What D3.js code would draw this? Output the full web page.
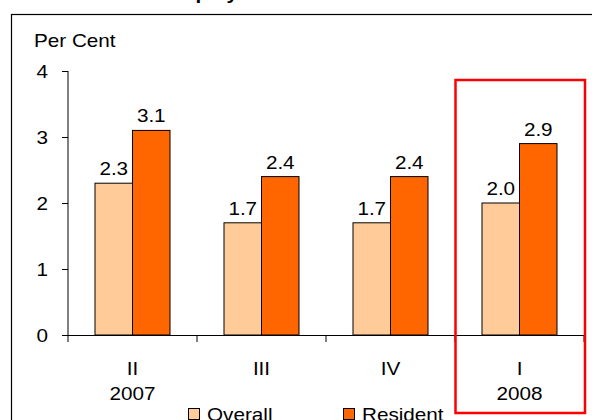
<!DOCTYPE html>
<html><head><meta charset="utf-8">
<script src="https://cdn.jsdelivr.net/npm/d3@7"></script>
<style>html,body{margin:0;padding:0;background:#fff;}svg{display:block;}</style>
</head><body>
<script>
const quarters = ["II","III","IV","I"];
const years = ["2007","","","2008"];
const overall = [2.3,1.7,1.7,2.0];
const resident = [3.1,2.4,2.4,2.9];
const seriesNames = ["Overall","Resident"];
const seriesColors = ["#FFCC99","#FF6600"];
const yTicks = [0,1,2,3,4];
const titleText = "Unemployment Rate";
const unitLabel = "Per Cent";

const W = 592, H = 420, SX = 1.15, FS = 18;
const FONT = "'Liberation Sans', Arial, sans-serif";
const svg = d3.select("body").append("svg").attr("width", W).attr("height", H);
svg.append("rect").attr("width", W).attr("height", H).attr("fill", "#fff");

function txt(x, y, s, anchor, opts) {
  opts = opts || {};
  return svg.append("text")
    .attr("transform", `translate(${x},${y}) scale(${SX},1)`)
    .attr("text-anchor", anchor || "start")
    .attr("font-family", FONT)
    .attr("font-size", opts.size || FS)
    .attr("font-weight", opts.weight || "normal")
    .attr("fill", "#000")
    .text(s);
}

// title (cut off at top)
txt(138, -1, titleText, "start", {size: 18, weight: "bold"});

// frame
svg.append("rect").attr("x", 11.5).attr("y", 14.5).attr("width", 620).attr("height", 500)
  .attr("fill", "none").attr("stroke", "#000").attr("stroke-width", 1.2);

const y = d3.scaleLinear().domain([0, 4]).range([335, 71]);
const x = d3.scaleBand().domain(quarters.map((q,i)=>i)).range([68, 584])
  .paddingInner(0.4186).paddingOuter(0.2093);
const xs = d3.scaleBand().domain([0,1]).range([0, x.bandwidth()]);
const step = x.step();

// y axis
svg.append("line").attr("x1", 68).attr("x2", 68).attr("y1", y(4)).attr("y2", y(0))
  .attr("stroke", "#000");
yTicks.forEach(t => {
  svg.append("line").attr("x1", 62).attr("x2", 68).attr("y1", y(t)+0.5).attr("y2", y(t)+0.5).attr("stroke", "#000");
  txt(48, y(t) + 6.5, String(t), "end");
});
txt(34, 47, unitLabel, "start");

// bars
const series = [overall, resident];
series.forEach((vals, si) => {
  vals.forEach((v, i) => {
    const bx = x(i) + xs(si);
    svg.append("rect").attr("x", bx).attr("y", y(v)).attr("width", xs.bandwidth())
      .attr("height", y(0) - y(v)).attr("fill", seriesColors[si])
      .attr("stroke", "#000").attr("stroke-width", 1);
    txt(bx + xs.bandwidth()/2, y(v) - 8, v.toFixed(1), "middle");
  });
});

// x axis
svg.append("line").attr("x1", 68).attr("x2", 584).attr("y1", y(0)+0.5).attr("y2", y(0)+0.5).attr("stroke", "#000");
d3.range(quarters.length + 1).forEach(i => {
  const tx = 68 + i * step;
  svg.append("line").attr("x1", tx).attr("x2", tx).attr("y1", y(0)).attr("y2", y(0)+7).attr("stroke", "#000");
});
quarters.forEach((q, i) => {
  const cx = x(i) + x.bandwidth()/2;
  txt(cx, 375, q, "middle");
  if (years[i]) txt(cx, 400, years[i], "middle");
});

// highlight box
svg.append("rect").attr("x", 455.5).attr("y", 80).attr("width", 129.5).attr("height", 333)
  .attr("fill", "none").attr("stroke", "#FF0000").attr("stroke-width", 2.5);

// legend
const legX = [188, 343];
seriesNames.forEach((n, i) => {
  svg.append("rect").attr("x", legX[i] + 0.5).attr("y", 408.5).attr("width", 11).attr("height", 11)
    .attr("fill", seriesColors[i]).attr("stroke", "#000");
  txt(legX[i] + 19, 421, n, "start");
});
</script>
</body></html>
